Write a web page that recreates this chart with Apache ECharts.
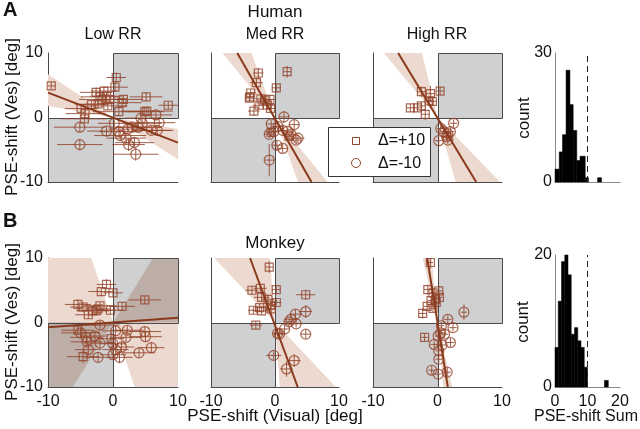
<!DOCTYPE html>
<html><head><meta charset="utf-8">
<script src="https://cdn.jsdelivr.net/npm/echarts@6/dist/echarts.min.js"></script>
<style>html,body{margin:0;padding:0;background:#fff}#c{width:640px;height:429px}</style>
</head><body><div id="c"></div>
<script>
// ---------- data ----------
// points: [x, y, xErr, yErr]
const humanLowSq = [[-9.5,4.9,0.6,0.6],[0.5,6.2,1.5,0.8],[0.3,4.7,2.0,0.7],[-2.6,3.9,2.5,0.8],[-1.4,4.1,2.0,0.6],[-2.0,3.2,3.0,0.7],[-1.0,3.3,2.5,0.6],[-1.7,2.8,3.5,0.6],[-0.5,2.8,2.0,0.6],[1.6,2.8,3.0,0.7],[1.4,2.3,3.0,0.6],[5.1,3.2,2.5,0.7],[8.5,1.9,1.5,0.6],[-3.3,2.0,2.5,0.6],[-2.3,2.1,2.0,0.6],[-0.8,1.8,3.0,0.6],[0.9,0.9,4.0,0.6],[4.9,0.9,3.0,0.6],[5.2,1.0,4.0,0.6],[-4.9,1.4,2.5,0.6],[-4.3,0.6,3.0,0.6],[-4.4,-0.2,3.5,0.6]];
const humanLowCi = [[-5.1,-1.5,4.0,0.8],[-5.1,-4.2,3.5,0.9],[-1.0,-2.1,3.0,0.6],[0.2,-0.9,2.5,0.6],[0.9,-2.2,3.0,0.7],[1.1,-2.8,4.0,0.8],[2.3,-1.8,3.0,0.6],[2.0,-3.2,3.0,0.8],[2.4,-4.2,2.5,1.0],[3.3,-3.9,3.0,0.9],[3.5,-5.7,3.5,1.0],[3.9,-1.5,3.5,0.6],[4.5,-0.9,3.0,0.7],[5.9,-2.0,3.0,0.6],[6.8,-2.0,2.5,0.6],[7.1,-0.8,2.5,0.7],[6.6,0.4,2.5,0.6],[4.3,-0.1,2.5,0.6],[2.9,-1.5,3.0,0.6]];
const humanMedSq = [[-2.6,6.9,0.8,0.8],[1.9,7.1,0.6,0.9],[-2.9,5.4,1.0,0.7],[0.2,4.6,0.7,0.6],[-3.8,3.8,0.8,0.6],[-4.0,3.0,0.7,0.6],[-3.9,3.2,0.6,0.5],[-2.2,2.9,1.0,0.6],[-1.6,2.7,1.2,0.6],[-0.8,2.8,0.8,0.6],[-2.5,1.9,1.0,0.6],[-1.2,1.9,1.0,0.6],[-3.3,1.0,0.9,0.7],[-0.7,1.4,0.8,0.6],[-0.6,-2.3,0.8,0.6],[2.2,-2.9,0.8,0.6]];
const humanMedCi = [[1.4,0.1,0.8,0.9],[-0.6,-1.0,0.8,0.6],[3.0,-1.1,0.8,0.7],[0.5,-1.4,0.7,0.6],[1.2,-2.0,0.8,0.6],[2.0,-2.1,1.0,0.6],[2.5,-2.6,1.0,0.6],[3.6,-3.2,1.0,0.6],[3.3,-3.5,0.8,0.6],[-0.9,-2.6,0.8,0.6],[-0.2,-2.2,0.8,0.6],[0.3,-4.3,0.8,0.8],[1.2,-4.8,0.7,0.7],[-0.9,-6.6,0.7,2.5]];
const humanHighSq = [[-2.5,4.0,0.6,0.8],[-1.1,3.7,0.6,1.2],[0.4,4.1,0.6,0.6],[-1.3,2.6,0.7,0.6],[-0.8,2.5,0.6,0.6],[-2.5,1.8,0.6,0.6],[-3.1,1.5,0.6,0.6],[-4.2,1.5,0.6,0.6],[-1.9,0.5,0.6,0.9]];
const humanHighCi = [[2.5,-0.9,0.6,0.6],[0.5,-1.7,0.6,0.6],[1.0,-2.2,0.6,0.6],[1.6,-2.5,0.6,0.6],[2.0,-2.2,0.6,0.6],[1.4,-3.0,0.6,0.6],[0.2,-3.6,0.6,0.6],[1.6,-3.5,0.6,0.6]];
const monkeyLowSq = [[-1.0,5.9,1.5,0.8],[-1.8,4.8,2.0,0.6],[0.0,4.6,1.5,0.6],[4.9,3.5,2.5,0.6],[-5.4,2.8,2.0,0.8],[-4.6,2.4,2.0,0.7],[-2.0,2.6,2.5,0.6],[-2.6,1.9,3.0,0.6],[-3.1,1.8,2.5,0.6],[-3.8,1.2,2.0,0.6],[-0.4,1.9,2.0,0.7],[1.4,2.5,2.0,0.6],[-2.3,2.1,2.0,0.6],[-5.4,-1.2,2.5,0.7],[-4.6,-5.3,2.5,1.0],[-0.3,-2.5,2.0,1.0]];
const monkeyLowCi = [[-2.0,-0.4,3.0,0.7],[-5.0,-1.6,3.0,0.8],[-4.1,-2.3,2.5,0.7],[-2.8,-2.1,2.0,0.7],[-4.0,-3.0,2.5,0.7],[-2.0,-3.2,2.5,0.8],[-3.8,-4.2,2.0,0.8],[-2.3,-5.4,2.0,0.8],[0.0,-3.3,2.0,0.8],[0.4,-1.3,2.0,0.8],[2.2,-1.2,2.5,0.7],[2.0,-2.3,2.5,0.7],[0.4,-4.2,2.0,0.9],[1.3,-3.8,2.0,0.8],[1.0,-5.4,2.0,0.9],[4.0,-4.7,2.5,0.7],[4.9,-1.4,2.5,0.7],[5.0,-2.2,2.5,0.7],[5.9,-3.9,2.0,0.8],[0.0,-5.0,2.0,0.7]];
const monkeyMedSq = [[-0.9,8.6,0.6,0.9],[-3.6,5.0,1.0,0.7],[-2.3,5.3,1.0,0.7],[0.2,5.1,0.7,0.7],[4.8,4.3,1.5,0.8],[-2.1,3.9,1.2,0.7],[-1.1,3.6,1.0,0.7],[0.2,3.1,0.8,0.7],[-0.7,2.7,0.8,0.6],[-2.4,2.3,0.8,0.6],[-2.1,1.8,1.2,0.6],[-0.6,2.1,0.8,0.6],[-3.4,1.9,0.8,0.6],[-3.0,-0.4,1.0,0.6]];
const monkeyMedCi = [[4.8,1.7,1.0,1.0],[3.2,1.3,1.0,0.7],[2.5,0.5,1.0,0.6],[2.2,0.1,0.8,0.6],[3.3,-0.2,1.0,0.6],[1.5,-1.0,0.8,0.6],[0.7,-1.8,0.8,0.6],[0.4,-1.7,0.8,0.6],[4.8,-1.8,0.8,0.7],[-0.2,-5.1,1.2,0.7],[3.0,-5.9,1.0,1.0],[1.8,-7.2,1.0,1.2]];
const monkeyHighSq = [[-1.1,9.3,0.4,0.9],[-1.5,5.1,0.6,0.8],[-0.7,4.6,0.5,0.8],[0.2,4.9,0.5,0.8],[0.3,3.9,0.5,0.6],[-0.3,3.6,0.5,0.6],[-1.0,3.4,0.6,0.6],[-1.6,2.5,0.6,0.6],[-0.7,2.2,0.6,0.6],[-2.3,1.4,0.6,0.8],[-2.0,-2.3,0.5,0.6],[-0.2,3.1,0.5,0.6]];
const monkeyHighCi = [[4.1,1.6,0.5,1.2],[1.6,0.5,0.6,0.6],[0.6,-0.5,0.5,0.6],[2.4,-0.8,0.6,0.6],[0.5,-1.6,0.5,0.6],[1.1,-1.8,0.6,0.6],[0.1,-2.1,0.5,0.6],[2.0,-3.1,0.6,0.7],[-0.5,-3.4,0.6,0.6],[0.7,-3.5,0.6,0.6],[0.2,-4.4,0.5,0.6],[0.2,-5.7,0.5,0.6],[-0.9,-7.4,0.5,0.7],[0.1,-8.0,0.5,0.7],[1.5,-7.7,0.6,0.7]];

// regression lines (endpoints at the frame)
const humanLowLine = [[-10,3.85],[10,-3.9]];
const humanMedLine = [[-5.9,10],[5.7,-10]];
const humanHighLine = [[-6.1,10],[6.0,-10]];
const monkeyLowLine = [[-10,-0.75],[10,0.75]];
const monkeyMedLine = [[-3.9,10],[3.55,-10]];
const monkeyHighLine = [[-1.6,10],[1.6,-10]];

// confidence bands (polygon vertices)
const humanLowBand = [[-10,1.8],[0,0],[10,-1.8],[10,-6.5],[0,0],[-10,6.7]];
const humanMedBand = [[-8.2,10],[0,0],[8.2,-10],[3.6,-10],[0,0],[-3.65,10]];
const humanHighBand = [[-8.3,10],[0,0],[9.7,-10],[2.8,-10],[0,0],[-2.4,10]];
const monkeyLowBand = [[-10,10],[-3.33,10],[0,0],[6.15,10],[10,10],[10,-10],[3.33,-10],[0,0],[-6.15,-10],[-10,-10]];
const monkeyMedBand = [[-9.5,10],[0,0],[9.5,-10],[0.75,-10],[0,0],[-0.8,10]];
const monkeyHighBand = [[-2.3,10],[0,0],[2.3,-10],[0.9,-10],[0,0],[-0.9,10]];

// grey quadrants [x0, y0, x1, y1]
const quadrants = [[0,0,10,10],[-10,-10,0,0]];

// histograms: [binStart, binEnd, count]
const humanHist = [[0,1.3,3],[1.3,2.3,7],[2.3,3.4,11],[3.4,4.6,26],[4.6,5.6,18],[5.6,6.7,12],[6.7,7.7,5],[7.7,9.3,6],[9.3,10.3,1],[13.1,14.3,1]];
const monkeyHist = [[0,1,6],[1,2,13],[2,3,19],[3,4,20],[4,5,17],[5,6,8],[6,7,9],[7,8,7],[8,9,6],[9,10,3],[15.2,16.4,1]];
const criterion = 10;

const scatterTicks = [-10, 0, 10];
const histXTicks = [0, 10, 20];

// ---------- styling ----------
const FONT = '"Liberation Sans", Arial, Helvetica, sans-serif';
const BROWN = '#93442a';
const LINEC = '#8a3a1c';
const BAND = '#ecd9cf';
const OVERLAP = '#bdaea8';
const GREY = '#cfd0d2';
const FRAME = '#4a4a4a';

const grids = [
  {left:48, top:53, width:130, height:129},
  {left:211, top:53, width:128, height:129},
  {left:373, top:53, width:129, height:129},
  {left:555, top:53, width:65, height:129},
  {left:48, top:258, width:130, height:129},
  {left:211, top:258, width:128, height:129},
  {left:373, top:258, width:129, height:129},
  {left:555, top:255, width:65, height:132}
];

const xAxes = [], yAxes = [], series = [];
const lbl = {fontFamily: FONT, fontSize: 16, color: '#111'};

// clip a polygon (data space) against an axis-aligned rectangle
function clipPoly(poly, r) {
  const tests = [
    [p => p[0] >= r[0], (a, b) => { const t = (r[0] - a[0]) / (b[0] - a[0]); return [r[0], a[1] + t * (b[1] - a[1])]; }],
    [p => p[0] <= r[2], (a, b) => { const t = (r[2] - a[0]) / (b[0] - a[0]); return [r[2], a[1] + t * (b[1] - a[1])]; }],
    [p => p[1] >= r[1], (a, b) => { const t = (r[1] - a[1]) / (b[1] - a[1]); return [a[0] + t * (b[0] - a[0]), r[1]]; }],
    [p => p[1] <= r[3], (a, b) => { const t = (r[3] - a[1]) / (b[1] - a[1]); return [a[0] + t * (b[0] - a[0]), r[3]]; }]
  ];
  let out = poly;
  tests.forEach(function (tst) {
    const inp = out; out = [];
    for (let i = 0; i < inp.length; i++) {
      const cur = inp[i], prev = inp[(i + inp.length - 1) % inp.length];
      const ci = tst[0](cur), pi = tst[0](prev);
      if (ci) { if (!pi) out.push(tst[1](prev, cur)); out.push(cur); }
      else if (pi) out.push(tst[1](prev, cur));
    }
  });
  return out;
}

function scatterAxes(gi, showX, showY) {
  xAxes.push({gridIndex: gi, type: 'value', min: scatterTicks[0], max: scatterTicks[2], interval: 10,
    axisLine: {show: true, onZero: false, lineStyle: {color: FRAME, width: 1}},
    axisTick: {show: false}, splitLine: {show: false},
    axisLabel: Object.assign({show: showX, margin: 7}, lbl)});
  yAxes.push({gridIndex: gi, type: 'value', min: scatterTicks[0], max: scatterTicks[2], interval: 10,
    axisLine: {show: true, onZero: false, lineStyle: {color: FRAME, width: 1}},
    axisTick: {show: false}, splitLine: {show: false},
    axisLabel: Object.assign({show: showY, margin: 5}, lbl)});
}

function quadSeries(ax, z, fill, stroke) {
  return Object.assign({type: 'custom', z: z, clip: false, silent: true,
    data: quadrants, encode: {x: [0, 2], y: [1, 3]},
    renderItem: function (p, api) {
      const a = api.coord([api.value(0), api.value(3)]);
      const b = api.coord([api.value(2), api.value(1)]);
      return {type: 'rect', shape: {x: Math.round(a[0]) + 0.5, y: Math.round(a[1]) + 0.5,
          width: Math.round(b[0]) - Math.round(a[0]), height: Math.round(b[1]) - Math.round(a[1])},
        style: {fill: fill, stroke: stroke, lineWidth: 1}};
    }}, ax);
}

function scatterPanel(gi, sq, ci, line, band) {
  const ax = {xAxisIndex: gi, yAxisIndex: gi};
  series.push(quadSeries(ax, 1, GREY, 'none'));
  series.push(Object.assign({type: 'custom', z: 2, clip: true, silent: true,
    data: band, encode: {x: 0, y: 1},
    renderItem: function (p, api) {
      if (p.dataIndex !== 0) return null;
      const children = [{type: 'polygon', shape: {points: band.map(v => api.coord(v))}, style: {fill: BAND}}];
      quadrants.forEach(function (q) {
        const c = clipPoly(band, q);
        if (c.length >= 3) children.push({type: 'polygon', shape: {points: c.map(v => api.coord(v))}, style: {fill: OVERLAP}});
      });
      return {type: 'group', children: children};
    }}, ax));
  series.push(quadSeries(ax, 3, 'none', FRAME));
  [[sq, 'Δ=+10', 'rect', 8], [ci, 'Δ=-10', 'circle', 10]].forEach(function (s) {
    series.push(Object.assign({type: 'custom', name: s[1], z: 4, clip: true, silent: true,
      data: s[0], encode: {x: 0, y: 1},
      renderItem: function (p, api) {
        const x = api.value(0), y = api.value(1), ex = api.value(2), ey = api.value(3);
        const a = api.coord([x - ex, y]), b = api.coord([x + ex, y]);
        const c = api.coord([x, y - ey]), d = api.coord([x, y + ey]);
        return {type: 'group', children: [
          {type: 'line', shape: {x1: a[0], y1: a[1], x2: b[0], y2: b[1]}, style: {stroke: BROWN, lineWidth: 1, opacity: 0.85}},
          {type: 'line', shape: {x1: c[0], y1: c[1], x2: d[0], y2: d[1]}, style: {stroke: BROWN, lineWidth: 1, opacity: 0.85}}
        ]};
      }}, ax));
    series.push(Object.assign({type: 'scatter', name: s[1], z: 5, symbol: s[2], symbolSize: s[3],
      data: s[0].map(v => [v[0], v[1]]),
      itemStyle: {color: 'rgba(0,0,0,0)', borderColor: BROWN, borderWidth: 1.2},
      emphasis: {disabled: true}}, ax));
  });
  series.push(Object.assign({type: 'line', z: 6, data: line, showSymbol: false, symbol: 'none',
    lineStyle: {color: LINEC, width: 2}, silent: true}, ax));
}

function histPanel(gi, bins, ymax, showX) {
  xAxes.push({gridIndex: gi, type: 'value', min: histXTicks[0], max: histXTicks[2], interval: 10,
    axisLine: {show: true, onZero: false, lineStyle: {color: '#8a8a8a', width: 1}},
    axisTick: {show: false}, splitLine: {show: false},
    axisLabel: Object.assign({show: showX, margin: 7}, lbl)});
  yAxes.push({gridIndex: gi, type: 'value', min: 0, max: ymax, interval: ymax,
    axisLine: {show: true, onZero: false, lineStyle: {color: '#8a8a8a', width: 1}},
    axisTick: {show: false}, splitLine: {show: false},
    axisLabel: Object.assign({show: true, margin: 3}, lbl)});
  const ax = {xAxisIndex: gi, yAxisIndex: gi};
  series.push(Object.assign({type: 'custom', z: 2, silent: true, data: bins,
    encode: {x: [0, 1], y: 2},
    renderItem: function (p, api) {
      const a = api.coord([api.value(0), api.value(2)]);
      const b = api.coord([api.value(1), 0]);
      return {type: 'rect', shape: {x: a[0], y: a[1], width: b[0] - a[0], height: b[1] - a[1]},
        style: {fill: '#000', stroke: '#000', lineWidth: 0.5}};
    }}, ax));
  series.push(Object.assign({type: 'line', z: 3, data: [[criterion, 0], [criterion, ymax]],
    showSymbol: false, symbol: 'none', silent: true,
    lineStyle: {color: '#222', width: 1, type: [6, 4]}}, ax));
}

scatterAxes(0, false, true); scatterPanel(0, humanLowSq, humanLowCi, humanLowLine, humanLowBand);
scatterAxes(1, false, false); scatterPanel(1, humanMedSq, humanMedCi, humanMedLine, humanMedBand);
scatterAxes(2, false, false); scatterPanel(2, humanHighSq, humanHighCi, humanHighLine, humanHighBand);
histPanel(3, humanHist, 30, false);
scatterAxes(4, true, true); scatterPanel(4, monkeyLowSq, monkeyLowCi, monkeyLowLine, monkeyLowBand);
scatterAxes(5, true, false); scatterPanel(5, monkeyMedSq, monkeyMedCi, monkeyMedLine, monkeyMedBand);
scatterAxes(6, true, false); scatterPanel(6, monkeyHighSq, monkeyHighCi, monkeyHighLine, monkeyHighBand);
histPanel(7, monkeyHist, 20, true);

function txt(x, y, s, size, opts) {
  opts = opts || {};
  return {type: 'text', x: x, y: y, rotation: opts.rot || 0, z: 100,
    style: {text: s, font: (opts.bold ? 'bold ' : '') + size + 'px ' + FONT, fill: '#111',
      textAlign: opts.align || 'center', textVerticalAlign: 'middle', align: opts.align || 'center', verticalAlign: 'middle'}};
}

const graphics = [
  txt(3, 10, 'A', 20, {bold: true, align: 'left'}),
  txt(3, 221, 'B', 20, {bold: true, align: 'left'}),
  txt(275, 12, 'Human', 17),
  txt(275, 243, 'Monkey', 17),
  txt(113, 35, 'Low RR', 16),
  txt(275, 35, 'Med RR', 16),
  txt(437, 35, 'High RR', 16),
  txt(12, 117, 'PSE-shift (Ves) [deg]', 17, {rot: Math.PI / 2}),
  txt(12, 322, 'PSE-shift (Ves) [deg]', 17, {rot: Math.PI / 2}),
  txt(524, 118, 'count', 17, {rot: Math.PI / 2}),
  txt(523, 322, 'count', 17, {rot: Math.PI / 2}),
  txt(275, 416, 'PSE-shift (Visual) [deg]', 17),
  txt(586, 417, 'PSE-shift Sum', 16),
  {type: 'rect', z: 90, shape: {x: 328.5, y: 127.5, width: 102, height: 49},
    style: {fill: '#fff', stroke: '#333', lineWidth: 1}},
  {type: 'rect', z: 101, shape: {x: 352.5, y: 137.5, width: 7, height: 7},
    style: {fill: 'none', stroke: BROWN, lineWidth: 1}},
  {type: 'circle', z: 101, shape: {cx: 356, cy: 163, r: 4.5},
    style: {fill: 'none', stroke: BROWN, lineWidth: 1}},
  txt(378, 141, 'Δ=+10', 16, {align: 'left'}),
  txt(378, 164, 'Δ=-10', 16, {align: 'left'})
];

const chart = echarts.init(document.getElementById('c'), null, {renderer: 'canvas'});
chart.setOption({
  animation: false,
  backgroundColor: '#fff',
  textStyle: {fontFamily: FONT},
  grid: grids,
  xAxis: xAxes,
  yAxis: yAxes,
  series: series,
  graphic: graphics
});
</script></body></html>
